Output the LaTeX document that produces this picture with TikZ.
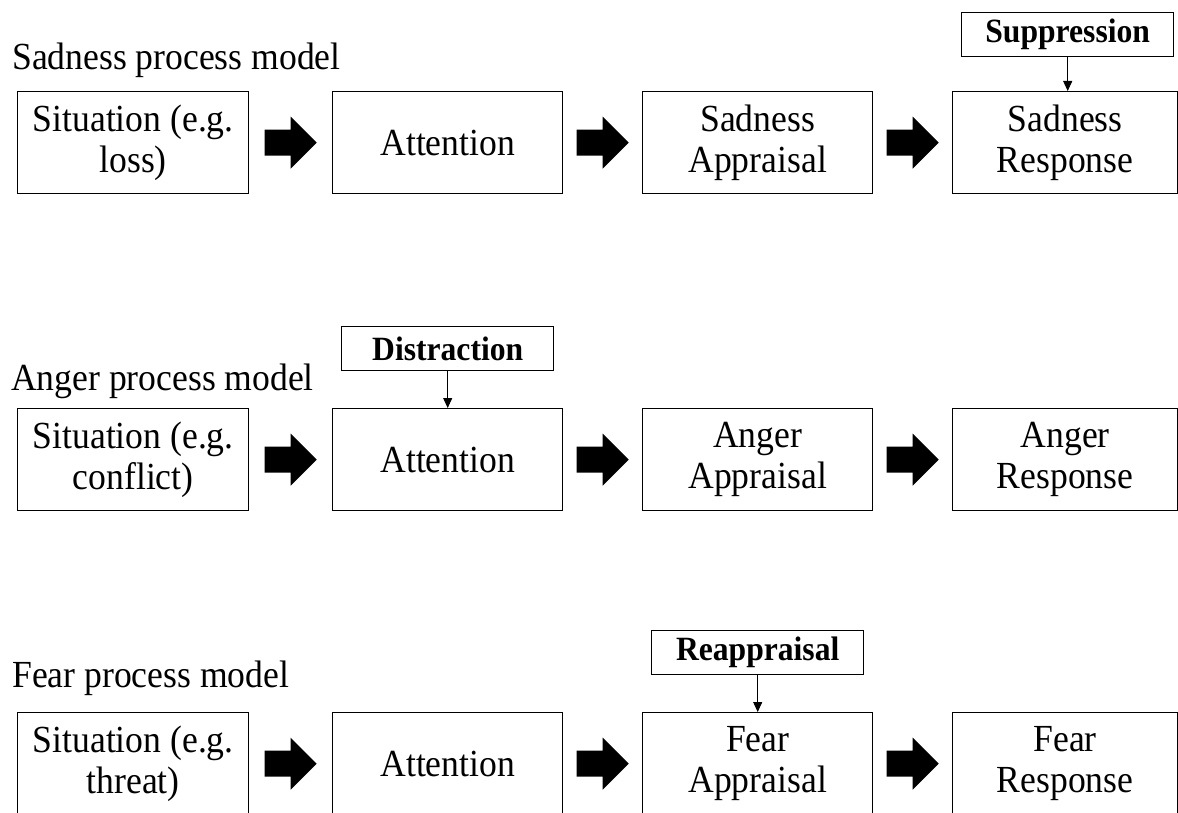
\documentclass[tikz,border=0pt]{standalone}
\usepackage{fontspec}
\setmainfont{Liberation Serif}[FakeStretch=0.93]
\usetikzlibrary{arrows.meta}

% thick block arrow centred between two stage boxes
\newcommand\flowarrow[2]{%
  \path (#1.east) -- coordinate[midway] (mid) (#2.west);
  \fill[black] ([shift={(-26,-13)}]mid) -- ++(26,0) -- ++(0,-13) -- ++(26,26)
    -- ++(-26,26) -- ++(0,-13) -- ++(-26,0) -- cycle;}

\begin{document}
\begin{tikzpicture}[x=1pt,y=-1pt,
  stage/.style={draw=black, line width=1.4pt, minimum height=102pt, inner sep=0pt,
    align=center, anchor=north west, font=\fontsize{38.3}{41}\selectfont},
  regul/.style={draw=black, line width=1.4pt, minimum width=212pt, minimum height=44pt,
    inner sep=0pt, anchor=north west, font=\fontsize{34}{36}\selectfont\bfseries},
  title/.style={anchor=base west, inner sep=0pt, font=\fontsize{38.3}{41}\selectfont},
  cue/.style={line width=0.9pt, -{Triangle[length=10pt,width=9pt]}}
]
\useasboundingbox (0,0) rectangle (1178,813);
\clip (0,0) rectangle (1178,813);

% ---- Sadness ----
\node[title] (t1) at (12,70) {Sadness process model};
\node[stage, minimum width=231pt] (s1) at (17,91) {Situation (e.g.\\loss)};
\node[stage, minimum width=230pt] (a1) at (332,91) {Attention};
\node[stage, minimum width=230pt] (p1) at (642,91) {Sadness\\Appraisal};
\node[stage, minimum width=225pt] (r1) at (952,91) {Sadness\\Response};
\node[regul] (g1) at (961,12) {Suppression};
\flowarrow{s1}{a1}
\flowarrow{a1}{p1}
\flowarrow{p1}{r1}
\draw[cue] (g1.south) -- (g1.south |- r1.north);

% ---- Anger ----
\node[title] (t2) at (11,390) {Anger process model};
\node[stage, minimum width=231pt] (s2) at (17,408) {Situation (e.g.\\conflict)};
\node[stage, minimum width=230pt] (a2) at (332,408) {Attention};
\node[stage, minimum width=230pt] (p2) at (642,408) {Anger\\Appraisal};
\node[stage, minimum width=225pt] (r2) at (952,408) {Anger\\Response};
\node[regul] (g2) at (341,326) {Distraction};
\flowarrow{s2}{a2}
\flowarrow{a2}{p2}
\flowarrow{p2}{r2}
\draw[cue] (g2.south) -- (g2.south |- a2.north);

% ---- Fear ----
\node[title] (t3) at (12,687) {Fear process model};
\node[stage, minimum width=231pt] (s3) at (17,712) {Situation (e.g.\\threat)};
\node[stage, minimum width=230pt] (a3) at (332,712) {Attention};
\node[stage, minimum width=230pt] (p3) at (642,712) {Fear\\Appraisal};
\node[stage, minimum width=225pt] (r3) at (952,712) {Fear\\Response};
\node[regul] (g3) at (651,630) {Reappraisal};
\flowarrow{s3}{a3}
\flowarrow{a3}{p3}
\flowarrow{p3}{r3}
\draw[cue] (g3.south) -- (g3.south |- p3.north);
\end{tikzpicture}
\end{document}
